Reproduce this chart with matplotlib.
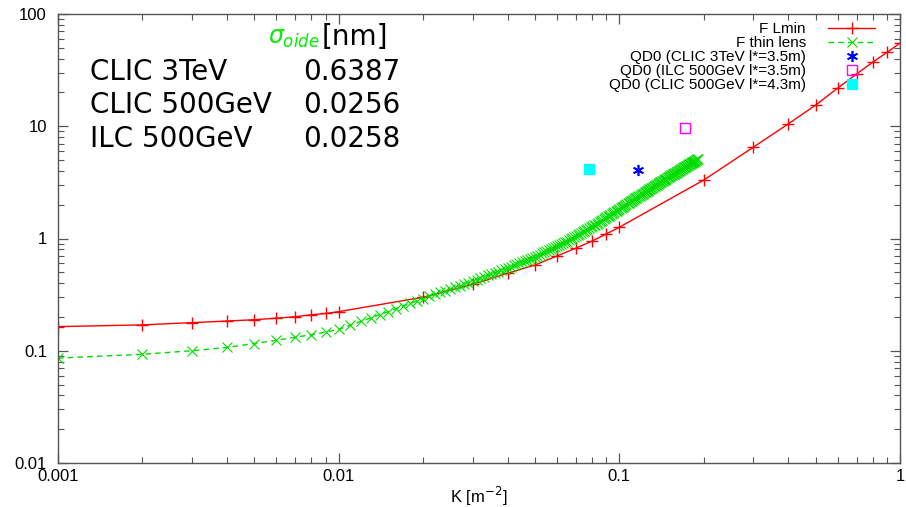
import numpy as np
import matplotlib
matplotlib.use("Agg")
import matplotlib.pyplot as plt
from matplotlib.ticker import LogLocator, NullFormatter, FixedFormatter, FixedLocator

plt.rcParams['font.family'] = ['Liberation Sans', 'DejaVu Sans']
plt.rcParams['mathtext.fontset'] = 'dejavusans'

# F Lmin curve
lmin_k = [0.001, 0.002, 0.003, 0.004, 0.005, 0.006, 0.007, 0.008, 0.009, 0.01,
          0.02, 0.03, 0.04, 0.05, 0.06, 0.07, 0.08, 0.09, 0.1,
          0.2, 0.3, 0.4, 0.5, 0.6, 0.7, 0.8, 0.9, 1.0]
lmin_sigma = [0.164, 0.170, 0.178, 0.184, 0.189, 0.195, 0.201, 0.209, 0.215, 0.223,
              0.30, 0.39, 0.49, 0.58, 0.70, 0.82, 0.95, 1.10, 1.26,
              3.32, 6.5, 10.5, 15.4, 21.9, 29.2, 37.3, 45.6, 55.0]

# F thin lens curve, sampled every 0.001 in K
thin_k = [i / 1000 for i in range(1, 191)]
thin_sigma = [
    0.086, 0.093, 0.100, 0.107, 0.116, 0.124, 0.132, 0.139, 0.147, 0.155,
    0.169, 0.183, 0.196, 0.210, 0.223, 0.237, 0.251, 0.264, 0.278, 0.292,
    0.305, 0.319, 0.331, 0.343, 0.356, 0.368, 0.380, 0.392, 0.405, 0.418,
    0.431, 0.444, 0.457, 0.470, 0.482, 0.495, 0.508, 0.522, 0.535, 0.549,
    0.563, 0.577, 0.590, 0.604, 0.618, 0.632, 0.645, 0.659, 0.673, 0.686,
    0.703, 0.719, 0.736, 0.752, 0.769, 0.786, 0.803, 0.820, 0.837, 0.854,
    0.871, 0.888, 0.905, 0.922, 0.940, 0.962, 0.984, 1.006, 1.028, 1.051,
    1.073, 1.096, 1.119, 1.142, 1.165, 1.188, 1.212, 1.236, 1.259, 1.283,
    1.308, 1.332, 1.356, 1.381, 1.406, 1.431, 1.459, 1.486, 1.514, 1.542,
    1.571, 1.599, 1.628, 1.657, 1.686, 1.716, 1.745, 1.775, 1.805, 1.835,
    1.866, 1.896, 1.927, 1.958, 1.989, 2.021, 2.052, 2.084, 2.116, 2.148,
    2.180, 2.213, 2.246, 2.278, 2.310, 2.342, 2.374, 2.407, 2.440, 2.473,
    2.506, 2.539, 2.572, 2.606, 2.640, 2.673, 2.708, 2.742, 2.776, 2.811,
    2.845, 2.880, 2.915, 2.950, 2.985, 3.021, 3.057, 3.092, 3.128, 3.164,
    3.201, 3.237, 3.274, 3.310, 3.347, 3.385, 3.422, 3.459, 3.497, 3.534,
    3.571, 3.607, 3.644, 3.681, 3.718, 3.756, 3.793, 3.830, 3.868, 3.906,
    3.944, 3.982, 4.020, 4.058, 4.097, 4.135, 4.174, 4.213, 4.252, 4.291,
    4.330, 4.369, 4.409, 4.448, 4.488, 4.528, 4.568, 4.608, 4.648, 4.688,
    4.729, 4.769, 4.810, 4.851, 4.891, 4.932, 4.974, 5.015, 5.056, 5.098,
]

# QD0 designs
clic3_k, clic3_sigma = [0.117], [4.07]
ilc500_k, ilc500_sigma = [0.171], [9.65]
clic500_k, clic500_sigma = [0.0782], [4.16]

# table of sigma_oide
machines = ["CLIC 3TeV", "CLIC 500GeV", "ILC 500GeV"]
oide_nm = ["0.6387", "0.0256", "0.0258"]

xticks = [0.001, 0.01, 0.1, 1]
xtick_labels = ["0.001", "0.01", "0.1", "1"]
yticks = [0.01, 0.1, 1, 10, 100]
ytick_labels = ["0.01", "0.1", "1", "10", "100"]

fig = plt.figure(figsize=(9.06, 5.07), dpi=100)
ax = fig.add_axes([58 / 906, 44 / 507, 842 / 906, 449 / 507])

ax.plot(lmin_k, lmin_sigma, color="#ff0000", lw=1.0, marker="+", ms=9, mew=1.0,
        label="F Lmin")
ax.plot(thin_k, thin_sigma, color="#00dd00", lw=1.0, ls=(0, (4, 3)), marker="x",
        ms=7, mew=0.8, label="F thin lens")
ax.plot(clic3_k, clic3_sigma, ls="none", marker=(6, 2, 0), ms=8, mew=1.2,
        color="#0000ff", label="QD0 (CLIC 3TeV l*=3.5m)")
ax.plot(ilc500_k, ilc500_sigma, ls="none", marker="s", ms=6.5, mew=1.0,
        mfc="none", mec="#ff00ff", label="QD0 (ILC 500GeV l*=3.5m)")
ax.plot(clic500_k, clic500_sigma, ls="none", marker="s", ms=6.5,
        color="#00ffff", label="QD0 (CLIC 500GeV l*=4.3m)")

ax.set_xscale("log")
ax.set_yscale("log")
ax.set_xlim(0.001, 1)
ax.set_ylim(0.01, 100)

ax.xaxis.set_major_locator(FixedLocator(xticks))
ax.xaxis.set_major_formatter(FixedFormatter(xtick_labels))
ax.yaxis.set_major_locator(FixedLocator(yticks))
ax.yaxis.set_major_formatter(FixedFormatter(ytick_labels))
ax.xaxis.set_minor_locator(LogLocator(base=10, subs=np.arange(2, 10)))
ax.yaxis.set_minor_locator(LogLocator(base=10, subs=np.arange(2, 10)))
ax.xaxis.set_minor_formatter(NullFormatter())
ax.yaxis.set_minor_formatter(NullFormatter())

spine_col = "#555555"
for s in ax.spines.values():
    s.set_color(spine_col)
    s.set_linewidth(1.0)
ax.tick_params(which="both", direction="in", top=True, right=True,
               color=spine_col, labelsize=12)
ax.tick_params(which="major", length=7, width=0.9)
ax.tick_params(which="minor", length=4, width=0.8)
ax.tick_params(axis="x", pad=4)
ax.tick_params(axis="y", pad=8)

ax.set_xlabel(r"K [m$^{-2}$]", fontsize=12, labelpad=1)

leg = ax.legend(loc="upper right", bbox_to_anchor=(0.978, 0.996), frameon=False,
                markerfirst=False, fontsize=11, handlelength=3.1,
                handletextpad=1.45, labelspacing=0.0, borderaxespad=0.0)

# sigma_oide table
ax.text(0.311, 0.946, r"$\sigma_{oide}$", color="#00ee00", fontsize=17,
        family="DejaVu Sans", transform=ax.transAxes, va="center", ha="right")
ax.text(0.313, 0.948, "[nm]", color="black", fontsize=20,
        family="DejaVu Sans", transform=ax.transAxes, va="center", ha="left")
row_y = [0.871, 0.797, 0.722]
for name, val, yy in zip(machines, oide_nm, row_y):
    ax.text(0.038, yy, name, fontsize=20, family="DejaVu Sans",
            transform=ax.transAxes, va="center", ha="left")
    ax.text(0.291, yy, val, fontsize=20, family="DejaVu Sans",
            transform=ax.transAxes, va="center", ha="left")

fig.savefig("out.png", dpi=100)
